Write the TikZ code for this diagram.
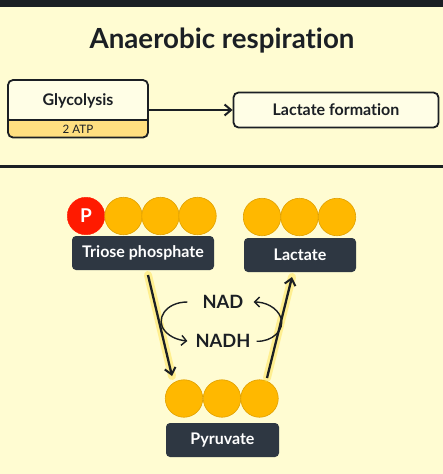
\documentclass[tikz,border=0pt]{standalone}
\usepackage{fontspec}
\setmainfont{Lato}[Ligatures=NoCommon]
\usetikzlibrary{arrows.meta}
\definecolor{bg}{HTML}{FFFCD2}
\definecolor{ink}{HTML}{1B1F24}
\definecolor{orng}{HTML}{FFB800}
\definecolor{orngd}{HTML}{E0A000}
\definecolor{redp}{HTML}{FF1A00}
\definecolor{lab}{HTML}{2E3742}
\definecolor{band}{HTML}{FFDF80}
\definecolor{boxw}{HTML}{FFFEE6}
\definecolor{glow}{HTML}{FFE040}
\tikzset{
  x=1pt,y=-1pt,
  ball/.style={circle,fill=orng,draw=orngd,line width=0.6pt,minimum size=37.5pt,inner sep=0pt},
  pball/.style={circle,fill=redp,draw=redp,minimum size=37.5pt,inner sep=0pt,text=white,font=\bfseries\fontsize{19}{19}\selectfont},
  darklab/.style={rounded corners=4pt,fill=lab,text=white,font=\bfseries\fontsize{16}{16}\selectfont,inner sep=0pt},
  proc/.style={rounded corners=5pt,draw=ink,line width=1.8pt,fill=boxw,inner sep=0pt,font=\bfseries\fontsize{16}{16}\selectfont,text=ink},
  arr/.style={-{Straight Barb[length=6.5pt,width=11pt,line width=2pt]},line width=2.3pt,ink},
  glowline/.style={line width=8pt,glow,opacity=0.45,line cap=round},
  curv/.style={-{Straight Barb[length=5pt,width=10pt,line width=1.4pt]},line width=1.4pt,ink},
  chem/.style={font=\bfseries\fontsize{18.3}{18}\selectfont,text=ink,inner sep=1pt}
}
\begin{document}
\begin{tikzpicture}
\fill[bg] (0,0) rectangle (443,474);
\useasboundingbox (0,0) rectangle (443,474);
\fill[ink] (0,0) rectangle (443,7);
\fill[ink] (0,164.5) rectangle (443,167.5);
\node[font=\bfseries\fontsize{27.7}{28}\selectfont,text=ink] (title) at (222,41) {Anaerobic respiration};
% Glycolysis box
\fill[band,rounded corners=5pt] (8,80) rectangle (148,137.5);
\fill[boxw,rounded corners=5pt] (8,80) rectangle (148,120);
\draw[ink,line width=1.2pt] (8,120) -- (148,120);
\draw[ink,line width=1.8pt,rounded corners=5pt] (8,80) rectangle (148,137.5);
\node[font=\bfseries\fontsize{16}{16}\selectfont,text=ink] (gly) at (78,101) {Glycolysis};
\node[font=\fontsize{11.6}{12}\selectfont,text=ink] (atp) at (78,129.5) {2 ATP};
\coordinate (glyR) at (148,110);
\node[proc,minimum width=205pt,minimum height=35pt] (lf) at (336,110) {Lactate formation};
\draw[arr,line width=1.8pt] (glyR) -- (lf.west);
% Triose phosphate
\node[pball] (p) at (86,216) {P};
\node[ball] (t1) at (123.5,216) {};
\node[ball] (t2) at (160.5,216) {};
\node[ball] (t3) at (197.5,216) {};
\node[darklab,minimum width=142pt,minimum height=34pt] (tp) at (143,253) {Triose phosphate};
% Lactate
\node[ball] (l1) at (262,217) {};
\node[ball] (l2) at (299.5,217) {};
\node[ball] (l3) at (337,217) {};
\node[darklab,minimum width=112pt,minimum height=34pt] (lac) at (300,255) {Lactate};
% Pyruvate
\node[ball] (y1) at (184,398.5) {};
\node[ball] (y2) at (222,398.5) {};
\node[ball] (y3) at (259.5,398.5) {};
\node[darklab,minimum width=113pt,minimum height=34pt] (pyr) at (222.5,440) {Pyruvate};
% main arrows
\coordinate (a1s) at (148,275);
\coordinate (a1e) at (172,376);
\coordinate (a2s) at (267,378);
\coordinate (a2e) at (292,277);
\draw[glowline] (a1s) -- (a1e);
\draw[glowline] (a2s) -- (a2e);
\draw[arr] (a1s) -- (a1e);
\draw[arr] (a2s) -- (a2e);
% NAD / NADH
\node[chem] (nad) at (223,302) {NAD};
\node[chem] (nadh) at (223,341) {NADH};
\draw[curv,shorten <=14pt] (nad.west) .. controls (165,302) and (155,320) .. (165,331) .. controls (170,337) and (178,340) .. ([xshift=-7pt]nadh.west);
\draw[curv,shorten <=5pt] (nadh.east) .. controls (272,342) and (285,330) .. (281,318) .. controls (277,307) and (265,302) .. ([xshift=9pt]nad.east);
\end{tikzpicture}
\end{document}
